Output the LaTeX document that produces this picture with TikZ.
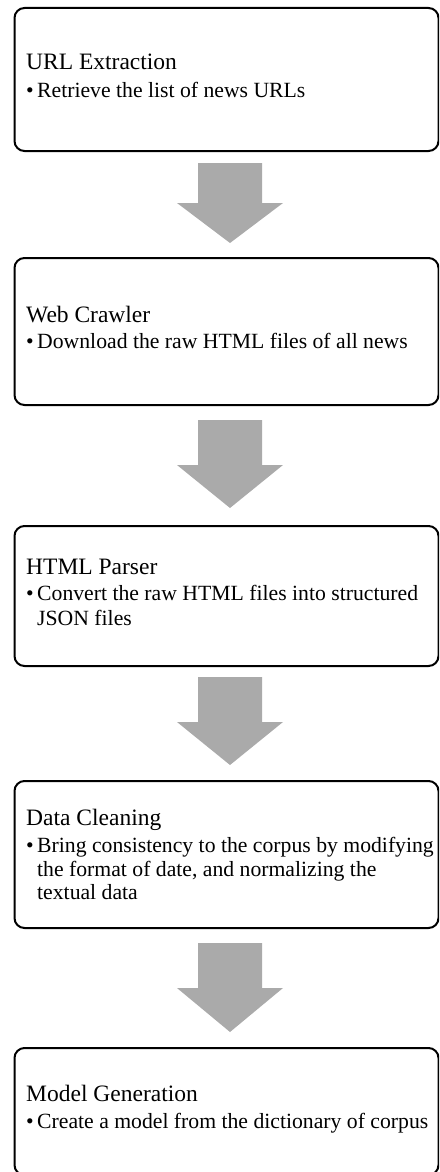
\documentclass[tikz,border=0pt]{standalone}
\usepackage{fontspec}
\setmainfont{Liberation Serif}
\definecolor{arrowgray}{RGB}{170,170,170}
\begin{document}
\begin{tikzpicture}[x=1pt,y=-1pt,
  box/.style={draw=black, line width=2pt, rounded corners=10pt, fill=white, inner sep=0pt, anchor=north west, minimum width=424pt},
  steptitle/.style={anchor=base west, inner sep=0pt, font=\fontsize{23.5}{28}\selectfont},
  item/.style={anchor=base west, inner sep=0pt, font=\fontsize{21.7}{25}\selectfont},
  bigarrow/.style={fill=arrowgray, draw=none}]
\useasboundingbox (0,0) rectangle (439,1172);
\clip (0,0) rectangle (439,1172);
% boxes
\node[box, minimum height=143pt] (b1) at (13.5,7) {};
\node[box, minimum height=147pt] (b2) at (13.5,257) {};
\node[box, minimum height=140pt] (b3) at (13.5,525) {};
\node[box, minimum height=147pt] (b4) at (13.5,780) {};
\node[box, minimum height=127pt] (b5) at (13.5,1047) {};
% block arrows
\foreach \t/\h/\p in {163/203/243, 420/465/508, 677/722/765, 943/988/1032}
  \fill[bigarrow] (198,\t) -- (262,\t) -- (262,\h) -- (283,\h) -- (230,\p) -- (177,\h) -- (198,\h) -- cycle;
% box 1
\node[steptitle] (t1) at (26,70) {URL Extraction};
\node[item] (u1) at (26,97) {•};
\node[item] (l1a) at (37,97) {Retrieve the list of news URLs};
% box 2
\node[steptitle] (t2) at (26,322) {Web Crawler};
\node[item] (u2) at (26,348) {•};
\node[item] (l2a) at (37,348) {Download the raw HTML files of all news};
% box 3
\node[steptitle] (t3) at (26,574) {HTML Parser};
\node[item] (u3) at (26,600) {•};
\node[item] (l3a) at (37,600) {Convert the raw HTML files into structured};
\node[item] (l3b) at (37,625) {JSON files};
% box 4
\node[steptitle] (t4) at (26,825) {Data Cleaning};
\node[item] (u4) at (26,852) {•};
\node[item] (l4a) at (37,852) {Bring consistency to the corpus by modifying};
\node[item] (l4b) at (37,876) {the format of date, and normalizing the};
\node[item] (l4c) at (37,899) {textual data};
% box 5
\node[steptitle] (t5) at (26,1101) {Model Generation};
\node[item] (u5) at (26,1128) {•};
\node[item] (l5a) at (37,1128) {Create a model from the dictionary of corpus};
\end{tikzpicture}
\end{document}
